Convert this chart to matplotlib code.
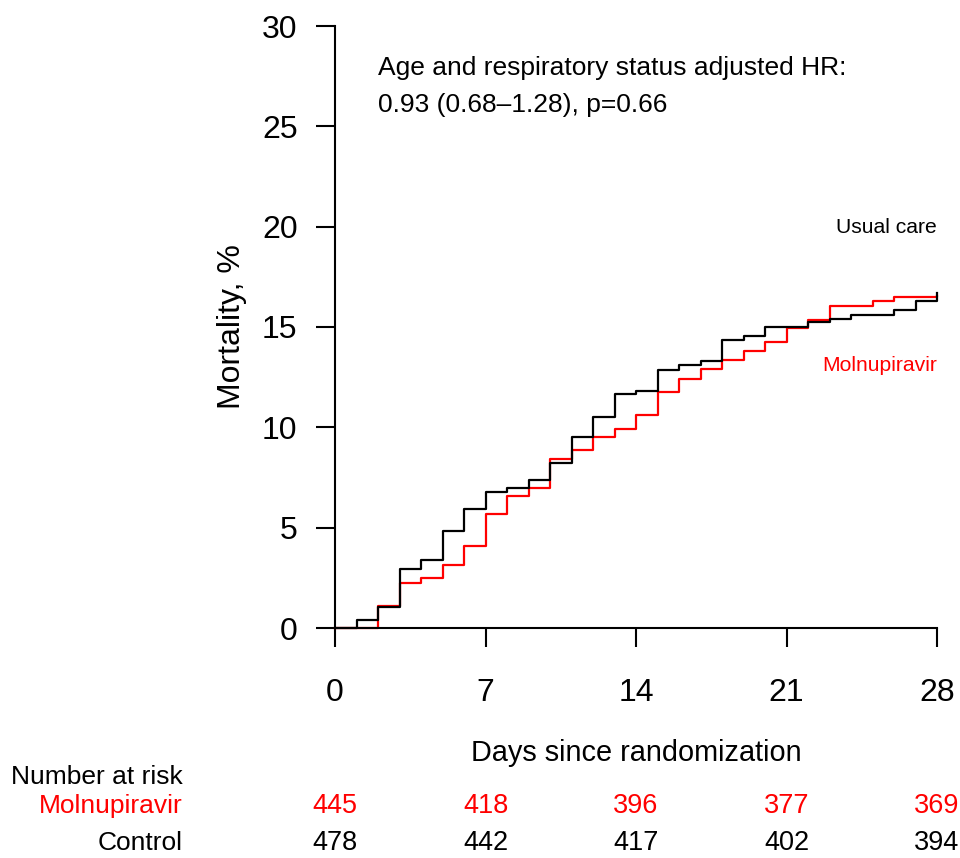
import matplotlib
matplotlib.use("Agg")
import matplotlib.pyplot as plt
from matplotlib.transforms import blended_transform_factory

plt.rcParams['font.family'] = ['Liberation Sans', 'DejaVu Sans']

days = list(range(0, 29))
usual_care = [0, 0.42, 1.05, 2.94, 3.39, 4.85, 5.91, 6.78, 6.97, 7.38,
              8.24, 9.50, 10.53, 11.64, 11.82, 12.86, 13.10, 13.32, 14.35, 14.55,
              14.98, 14.98, 15.23, 15.40, 15.61, 15.61, 15.83, 16.28, 16.68]
molnupiravir = [0, 0, 1.12, 2.26, 2.47, 3.15, 4.09, 5.66, 6.56, 7.00,
                8.41, 8.87, 9.50, 9.93, 10.61, 11.77, 12.43, 12.89, 13.35, 13.82,
                14.25, 14.93, 15.35, 16.04, 16.04, 16.28, 16.51, 16.51, 16.55]

xticks = [0, 7, 14, 21, 28]
yticks = [0, 5, 10, 15, 20, 25, 30]
risk_molnupiravir = [445, 418, 396, 377, 369]
risk_control = [478, 442, 417, 402, 394]

RED = '#FF0000'
W, H = 960, 858

fig = plt.figure(figsize=(W / 100, H / 100), dpi=100)
ax = fig.add_axes([335 / W, 1 - 628 / H, (937 - 335) / W, (628 - 26) / H])

ax.step(days, usual_care, where='post', color='black', lw=1.6, clip_on=False, zorder=3)
ax.step(days, molnupiravir, where='post', color=RED, lw=1.6, clip_on=False, zorder=2)

ax.set_xlim(0, 28)
ax.set_ylim(0, 30)
ax.set_xticks(xticks)
ax.set_yticks(yticks)
for s in ['top', 'right']:
    ax.spines[s].set_visible(False)
for s in ['left', 'bottom']:
    ax.spines[s].set_linewidth(1.5)
ax.tick_params(axis='both', direction='out', length=14, width=1.5, labelsize=23)
ax.tick_params(axis='x', pad=22)
ax.tick_params(axis='y', pad=13)

ax.set_ylabel('Mortality, %', fontsize=23, labelpad=11)
ax.set_xlabel('Days since randomization', fontsize=20.8, labelpad=22)

ax.text(2.0, 27.9, 'Age and respiratory status adjusted HR:', fontsize=19, va='center', ha='left')
ax.text(2.0, 26.05, '0.93 (0.68\u20131.28), p=0.66', fontsize=19, va='center', ha='left')

ax.text(28, 19.95, 'Usual care', fontsize=15.2, ha='right', va='center')
ax.text(28, 13.1, 'Molnupiravir', fontsize=15.2, ha='right', va='center', color=RED)

tr = blended_transform_factory(ax.transData, fig.transFigure)
fig.text(183 / W, 1 - 777 / H, 'Number at risk', fontsize=19, ha='right', va='center')
fig.text(183 / W, 1 - 806 / H, 'Molnupiravir', fontsize=19, ha='right', va='center', color=RED)
fig.text(183 / W, 1 - 843 / H, 'Control', fontsize=19, ha='right', va='center')
for d, m, c in zip(xticks, risk_molnupiravir, risk_control):
    ax.text(d, 1 - 806 / H, str(m), transform=tr, fontsize=19.5, ha='center', va='center', color=RED)
    ax.text(d, 1 - 843 / H, str(c), transform=tr, fontsize=19.5, ha='center', va='center')

fig.savefig('out.png', dpi=100)
